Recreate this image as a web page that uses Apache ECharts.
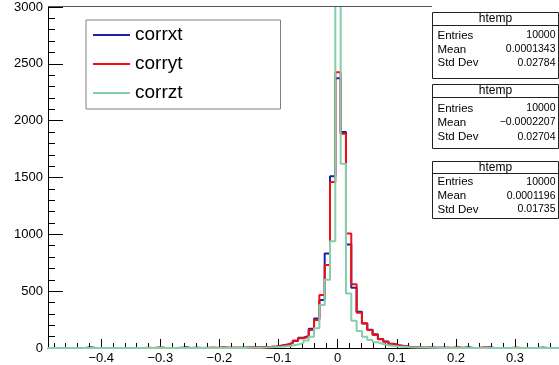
<!DOCTYPE html>
<html>
<head>
<meta charset="utf-8">
<script src="https://cdn.jsdelivr.net/npm/echarts@6/dist/echarts.min.js"></script>
<style>
  html, body { margin: 0; padding: 0; background: #fff; }
  #chart { width: 559px; height: 365px; }
</style>
</head>
<body>
<div id="chart"></div>
<script>
// Binning of the htemp histograms: 100 bins starting at binLow
const binLow = -0.49;
const binWidth = 0.009;

// Bin contents, one value per bin (100 bins)
const corrxt = [
  0, 0, 0, 0, 0, 0, 1, 6, 1, 0,
  0, 0, 0, 1, 0, 0, 1, 0, 1, 0,
  1, 1, 0, 1, 1, 7, 1, 2, 1, 1,
  2, 1, 2, 2, 3, 2, 3, 4, 4, 5,
  7, 10, 14, 22, 30, 44, 62, 90, 105, 170,
  260, 422, 832, 1512, 2373, 1901, 910, 530, 320, 215,
  160, 120, 80, 58, 38, 25, 17, 12, 9, 7,
  5, 4, 3, 2, 2, 1, 2, 1, 6, 1,
  1, 1, 6, 1, 0, 1, 0, 1, 0, 0,
  1, 0, 5, 0, 0, 0, 0, 0, 0, 0
];
const corryt = [
  0, 0, 0, 1, 0, 0, 0, 0, 1, 0,
  0, 0, 1, 0, 0, 1, 0, 0, 2, 1,
  6, 3, 1, 1, 2, 1, 0, 2, 1, 2,
  2, 3, 6, 3, 2, 3, 3, 5, 6, 4,
  7, 10, 14, 20, 28, 45, 65, 85, 99, 158,
  246, 466, 730, 1460, 2426, 1885, 1008, 560, 310, 217,
  158, 114, 76, 55, 35, 22, 15, 10, 8, 6,
  5, 4, 3, 3, 2, 2, 6, 3, 2, 1,
  2, 6, 2, 1, 1, 1, 0, 5, 1, 0,
  1, 0, 0, 1, 0, 0, 0, 0, 0, 0
];
const corrzt = [
  0, 0, 0, 0, 0, 0, 0, 0, 0, 0,
  0, 0, 0, 0, 0, 0, 0, 0, 0, 0,
  3, 1, 0, 0, 0, 1, 0, 0, 0, 1,
  0, 1, 0, 1, 1, 1, 1, 2, 2, 3,
  4, 6, 8, 11, 15, 22, 30, 45, 65, 99,
  173, 378, 600, 940, 4700, 1620, 480, 240, 150, 100,
  70, 50, 35, 25, 18, 13, 10, 7, 5, 4,
  6, 3, 2, 1, 1, 1, 0, 1, 0, 0,
  0, 0, 0, 0, 0, 0, 0, 0, 0, 0,
  0, 0, 0, 0, 0, 0, 0, 0, 0, 0
];

const seriesNames = ['corrxt', 'corryt', 'corrzt'];
const seriesColors = ['#2020a4', '#f01010', '#84cfaa'];

// Axis tick labels
const xTickValues = [-0.4, -0.3, -0.2, -0.1, 0, 0.1, 0.2, 0.3];
const yTickValues = [0, 500, 1000, 1500, 2000, 2500, 3000];

// Statistics boxes (one per histogram)
const statTitle = 'htemp';
const statLabels = ['Entries', 'Mean', 'Std Dev'];
const statValues = [
  ['10000', '0.0001343', '0.02784'],
  ['10000', '\u22120.0002207', '0.02704'],
  ['10000', '0.0001196', '0.01735']
];

const xMin = binLow;
const xMax = binLow + 100 * binWidth;

// Secondary x ticks every 0.02 between the labelled ones
const xMinorTicks = [];
for (let i = -24; i <= 20; i++) {
  if (i % 5 !== 0) xMinorTicks.push(i / 50);
}

// Step outline: each bin holds its value from its low edge to its high edge
function toSteps(counts) {
  const pts = counts.map((c, i) => [binLow + i * binWidth, c]);
  pts.push([binLow + counts.length * binWidth, counts[counts.length - 1]]);
  return pts;
}

const FONT = 'Liberation Sans, Arial, Helvetica, sans-serif';

// Stats box geometry
const boxLeft = 432.5, boxRight = 558.5;
const boxes = [
  { top: 12.5, bottom: 78.5, title: 18.5, sep: 25.5, rows: [35.5, 49.5, 63] },
  { top: 84.5, bottom: 148.5, title: 90.5, sep: 97.5, rows: [108.5, 122.5, 137] },
  { top: 161.5, bottom: 218.5, title: 167.5, sep: 173.5, rows: [182, 196, 209.5] }
];

const graphics = [
  { type: 'line', shape: { x1: 48, y1: 6.5, x2: 432, y2: 6.5 },
    style: { stroke: '#555', lineWidth: 1 }, z: 10 }
];
boxes.forEach((b, k) => {
  const children = [
    { type: 'rect', shape: { x: boxLeft, y: b.top, width: boxRight - boxLeft, height: b.bottom - b.top },
      style: { fill: '#fff', stroke: '#222', lineWidth: 1 } },
    { type: 'line', shape: { x1: boxLeft, y1: b.sep, x2: boxRight, y2: b.sep },
      style: { stroke: '#222', lineWidth: 1 } },
    { type: 'text', style: { text: statTitle, x: (boxLeft + boxRight) / 2, y: b.title,
      font: '12px ' + FONT, fill: '#000', textAlign: 'center', textVerticalAlign: 'middle',
      align: 'center', verticalAlign: 'middle' } }
  ];
  statLabels.forEach((lab, r) => {
    children.push({ type: 'text', style: { text: lab, x: boxLeft + 5, y: b.rows[r],
      font: '11.5px ' + FONT, fill: '#000', textAlign: 'left', textVerticalAlign: 'middle',
      align: 'left', verticalAlign: 'middle' } });
    children.push({ type: 'text', style: { text: statValues[k][r], x: boxRight - 3, y: b.rows[r],
      font: '10.5px ' + FONT, fill: '#000', textAlign: 'right', textVerticalAlign: 'middle',
      align: 'right', verticalAlign: 'middle' } });
  });
  graphics.push({ type: 'group', z: 20, children });
});

const chart = echarts.init(document.getElementById('chart'), null, { renderer: 'canvas' });
chart.setOption({
  animation: false,
  backgroundColor: '#fff',
  textStyle: { fontFamily: FONT },
  grid: {
    left: 48, top: 7, bottom: 17,
    right: 559 - (337.7 + xMax * 591.2),
    outerBoundsMode: 'none',
    containLabel: false
  },
  legend: {
    orient: 'vertical', left: 86, top: 20,
    padding: [5, 98, 6, 7],
    itemWidth: 37, itemHeight: 2, itemGap: 9,
    icon: 'rect',
    borderColor: '#808080', borderWidth: 1,
    backgroundColor: '#fff',
    selectedMode: false,
    textStyle: { fontSize: 19, color: '#000', lineHeight: 20, fontFamily: FONT },
    data: seriesNames
  },
  xAxis: [
    {
      type: 'value', min: xMin, max: xMax, position: 'bottom',
      axisLine: { show: true, onZero: false, lineStyle: { color: '#000', width: 1 } },
      axisTick: { show: true, inside: true, length: 9, customValues: xTickValues,
        lineStyle: { color: '#000', width: 1 } },
      axisLabel: { show: true, customValues: xTickValues, margin: 4, fontSize: 13, color: '#000',
        formatter: v => (v < 0 ? '\u2212' + String(-v) : String(v)) },
      splitLine: { show: false }
    },
    {
      type: 'value', min: xMin, max: xMax, position: 'bottom',
      axisLine: { show: false, onZero: false },
      axisTick: { show: true, inside: true, length: 5, customValues: xMinorTicks,
        lineStyle: { color: '#000', width: 1 } },
      axisLabel: { show: false },
      splitLine: { show: false }
    }
  ],
  yAxis: {
    type: 'value', min: 0, max: 3000, interval: 500,
    axisLine: { show: true, onZero: false, lineStyle: { color: '#000', width: 1 } },
    axisTick: { show: true, inside: true, length: 15, lineStyle: { color: '#000', width: 1 } },
    minorTick: { show: true, splitNumber: 5, length: 7, lineStyle: { color: '#000', width: 1 } },
    axisLabel: { margin: 5, fontSize: 13, color: '#000', formatter: v => String(v) },
    splitLine: { show: false }
  },
  series: [corrxt, corryt, corrzt].map((counts, i) => ({
    type: 'line',
    name: seriesNames[i],
    data: toSteps(counts),
    step: 'end',
    symbol: 'none',
    clip: true,
    color: seriesColors[i],
    lineStyle: { color: seriesColors[i], width: 2 },
    itemStyle: { color: seriesColors[i] },
    z: 2 + i
  })),
  graphic: graphics
});
</script>
</body>
</html>
